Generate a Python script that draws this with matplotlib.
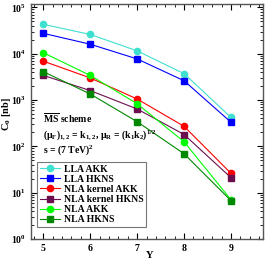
import matplotlib
matplotlib.use("Agg")
import matplotlib.pyplot as plt
from matplotlib.ticker import MultipleLocator, LogLocator, NullFormatter

plt.rcParams['font.family'] = ['Liberation Serif', 'DejaVu Serif']
plt.rcParams['font.weight'] = 'bold'
plt.rcParams['mathtext.fontset'] = 'custom'
plt.rcParams['mathtext.rm'] = 'Liberation Serif:bold'
plt.rcParams['mathtext.it'] = 'Liberation Serif:bold'
plt.rcParams['mathtext.bf'] = 'Liberation Serif:bold'

Y = [5, 6, 7, 8, 9]
lla_akk = [4.3e4, 2.6e4, 1.15e4, 3.7e3, 420]
lla_hkns = [2.75e4, 1.6e4, 7.7e3, 2.6e3, 330]
nla_kernel_akk = [6.9e3, 3.0e3, 1.05e3, 270, 26]
nla_kernel_hkns = [3.4e3, 1.6e3, 640, 180, 21]
nla_akk = [1.05e4, 3.4e3, 830, 125, 7.0]
nla_hkns = [4.1e3, 1.35e3, 340, 69, 6.7]

series = [
    ("LLA AKK", lla_akk, "o", "#40E0D0"),
    ("LLA HKNS", lla_hkns, "s", "#0000FF"),
    ("NLA kernel AKK", nla_kernel_akk, "o", "#FF0000"),
    ("NLA kernel HKNS", nla_kernel_hkns, "s", "#6B0F4F"),
    ("NLA AKK", nla_akk, "o", "#00FF00"),
    ("NLA HKNS", nla_hkns, "s", "#008800"),
]

fig = plt.figure(figsize=(2.7, 2.61), dpi=100)
ax = fig.add_axes([31 / 270, 1 - 239 / 261, 232 / 270, 235 / 261])

for name, vals, mk, col in series:
    ax.plot(Y, vals, marker=mk, color=col, lw=0.8, ms=4.5, label=name)

ax.set_yscale('log')
ax.set_xlim(4.74, 9.68)
ax.set_ylim(1, 1.18e5)
ax.xaxis.set_major_locator(MultipleLocator(1))
ax.xaxis.set_minor_locator(MultipleLocator(0.2))
ax.yaxis.set_major_locator(LogLocator(base=10, numticks=10))
ax.yaxis.set_minor_locator(LogLocator(base=10, subs=range(2, 10), numticks=20))
ax.yaxis.set_minor_formatter(NullFormatter())
ax.tick_params(which='both', direction='in', top=True, right=True, labelsize=7, colors='black')
ax.tick_params(which='major', length=4, width=0.8)
ax.tick_params(which='minor', length=2, width=0.6)
for sp in ax.spines.values():
    sp.set_linewidth(1.0)
    sp.set_color('#555555')

ax.set_xlabel('Y', fontsize=7.5, fontweight='bold')
ax.xaxis.set_label_coords((150 - 31) / 232, -(251 - 239) / 235)
ax.set_ylabel(r'C$_0$ [nb]', fontsize=7.5, fontweight='bold')
ax.yaxis.set_label_coords(-0.078, 0.532)

tkw = dict(transform=ax.transAxes, fontsize=7, fontweight='bold', va='center', ha='left')
ax.text(0.05, 0.515, r'$\overline{\mathrm{MS}}$ scheme', **tkw)
ax.text(0.05, 0.438, r'($\mu_F$)$_{1,2}$ = k$_{1,2}$, $\mu_R$ = (k$_1$k$_2$)$^{1/2}$', **tkw)
ax.text(0.05, 0.379, r's = (7 TeV)$^2$', **tkw)

leg = ax.legend(loc='lower left', bbox_to_anchor=(0.027, 0.05), fontsize=7, frameon=True,
                fancybox=False, edgecolor='#555555', handlelength=2.0, handletextpad=0.4,
                borderpad=0.3, labelspacing=0.12, borderaxespad=0)
leg.get_frame().set_linewidth(0.8)

fig.savefig('out.png', dpi=100)
